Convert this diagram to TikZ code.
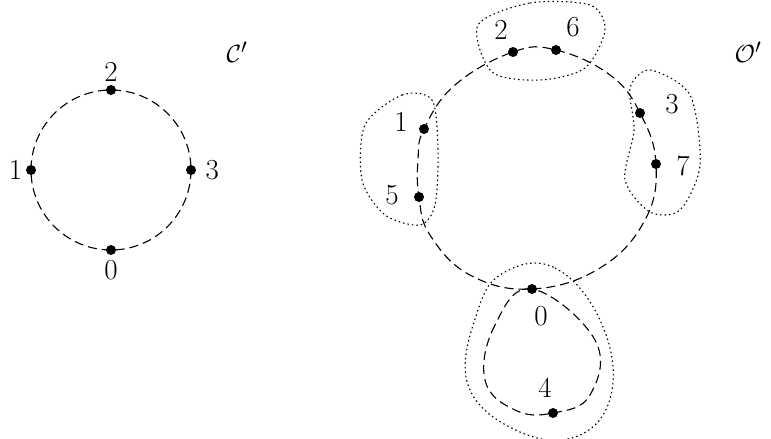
\documentclass[tikz,border=0pt]{standalone}
\usetikzlibrary{positioning}
\tikzset{
  pt/.style={circle,fill=black,inner sep=0pt,minimum size=10pt}, % Punkte
  lbl/.style={font=\fontsize{29}{34}\selectfont},
  kurve/.style={dash pattern=on 9pt off 5pt,line width=1.1pt},
  blob/.style={dash pattern=on 1.5pt off 3pt,line width=1.1pt}
}
\begin{document}
\begin{tikzpicture}[x=1pt,y=-1pt]
\useasboundingbox (0,0) rectangle (771,439);

%linker Kreis
\node[pt] (c2) at (111,90) {};
\node[pt] (c1) at (31,170) {};
\node[pt] (c3) at (191,170) {};
\node[pt] (c0) at (111,250) {};
\draw[kurve] (111,170) circle (80);
\node[lbl,above=0pt of c2] {2};
\node[lbl,left=0pt of c1] {1};
\node[lbl,right=6pt of c3] {3};
\node[lbl,below=2pt of c0] {0};
\node[lbl] (Cp) at (237,52) {$\mathcal{C}'$};

%rechter Graph
\node[pt] (o2) at (513,52) {};
\node[pt] (o6) at (556,50) {};
\node[pt] (o3) at (640,113) {};
\node[pt] (o7) at (656,164) {};
\node[pt] (o1) at (424,129) {};
\node[pt] (o5) at (419,197) {};
\node[pt] (o0) at (532,289) {};
\node[pt] (o4) at (553,413) {};
\draw[kurve] plot[smooth cycle,tension=0.7] coordinates
  {(513,52) (556,50) (610,75) (640,113) (656,164) (645,220) (600,268) (532,289)
   (470,275) (430,235) (419,197) (418,160) (424,129) (455,85)};
\draw[kurve] plot[smooth cycle,tension=0.7] coordinates
  {(532,289) (495,325) (485,380) (515,410) (553,413) (590,395) (595,340)};

\node[lbl] at (501,30) {2};
\node[lbl] at (573,27) {6};
\node[lbl] at (672,104) {3};
\node[lbl] at (683,166) {7};
\node[lbl] at (401,122) {1};
\node[lbl] at (392,195) {5};
\node[lbl] at (541,316) {0};
\node[lbl] at (545,388) {4};
\node[lbl] (Op) at (748,52) {$\mathcal{O}'$};

%Umrandungen
\draw[blob] plot[smooth cycle] coordinates
  {(478,25) (530,3) (590,5) (605,30) (585,68) (540,80) (492,72)};
\draw[blob] plot[smooth cycle] coordinates
  {(630,88) (650,70) (690,95) (700,165) (680,210) (650,212) (625,180) (634,130)};
\draw[blob] plot[smooth cycle] coordinates
  {(365,125) (402,95) (432,100) (438,150) (435,205) (420,225) (385,215) (362,180)};
\draw[blob] plot[smooth cycle,tension=0.7] coordinates
  {(505,272) (555,268) (600,320) (612,390) (580,435) (520,432) (468,385) (478,310)};
\end{tikzpicture}
\end{document}
